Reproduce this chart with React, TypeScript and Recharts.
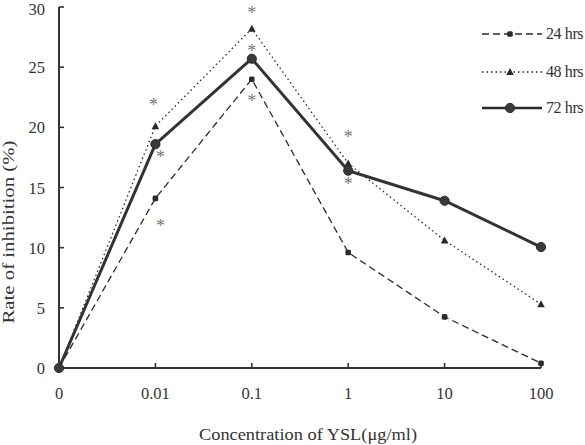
import React from 'react';
import { LineChart, Line, XAxis, YAxis, ReferenceDot } from 'recharts';

const concentrations = ['0', '0.01', '0.1', '1', '10', '100'];
const hrs24 = [0, 14.1, 24.0, 9.6, 4.25, 0.4];
const hrs48 = [0, 20.1, 28.2, 17.0, 10.6, 5.3];
const hrs72 = [0, 18.6, 25.7, 16.4, 13.9, 10.05];
const yTicks = [0, 5, 10, 15, 20, 25, 30];
// significance asterisks: [category, value, x-offset]
const asterisks: [string, number, number][] = [
  ['0.01', 22.2, -2],
  ['0.01', 17.9, 5],
  ['0.01', 12.1, 5],
  ['0.1', 29.8, 0],
  ['0.1', 26.7, 0],
  ['0.1', 22.5, 0],
  ['1', 19.5, 0],
  ['1', 15.6, 0],
];

const data = concentrations.map((c, i) => ({ conc: c, h24: hrs24[i], h48: hrs48[i], h72: hrs72[i] }));

const FONT = '"Liberation Serif", "Times New Roman", serif';
const DARK = '#2a2a2a';

const Square = (p: any) => {
  const { cx, cy } = p;
  if (cx == null || cy == null) return null;
  return <rect x={cx - 2.8} y={cy - 2.8} width={5.6} height={5.6} rx={1.5} fill={DARK} />;
};
const Tri = (p: any) => {
  const { cx, cy } = p;
  if (cx == null || cy == null) return null;
  return <polygon points={`${cx},${cy - 4} ${cx - 3.8},${cy + 3} ${cx + 3.8},${cy + 3}`} fill={DARK} />;
};
const Circ = (p: any) => {
  const { cx, cy } = p;
  if (cx == null || cy == null) return null;
  return <circle cx={cx} cy={cy} r={4.6} fill="#3a3a3a" stroke={DARK} strokeWidth={1} />;
};

const XTick = (p: any) => {
  const { x, y, payload } = p;
  return (
    <g>
      {payload.value !== '0' && (
        <line x1={x} y1={y} x2={x} y2={y - 5} stroke="#333" strokeWidth={1.6} />
      )}
      <text x={x} y={y + 31} textAnchor="middle" fontFamily={FONT} fontSize={16.5} fill="#333">
        {payload.value}
      </text>
    </g>
  );
};

const YTick = (p: any) => {
  const { x, y, payload } = p;
  return (
    <g>
      {payload.value !== 0 && (
        <line x1={x} y1={y} x2={x + 5} y2={y} stroke="#333" strokeWidth={1.6} />
      )}
      <text x={x - 14} y={Math.max(y + 6, 15)} textAnchor="end" fontFamily={FONT} fontSize={16.5} fill="#333">
        {payload.value}
      </text>
    </g>
  );
};

const LegendBox = () => {
  const rows = [
    { label: '24 hrs', y: 14, dash: '7 4', w: 1.3, M: Square },
    { label: '48 hrs', y: 52, dash: '1.5 3', w: 1.3, M: Tri },
    { label: '72 hrs', y: 88, dash: undefined, w: 2.5, M: Circ },
  ];
  return (
    <svg width={110} height={100} style={{ position: 'absolute', left: 478, top: 20, overflow: 'visible' }}>
      {rows.map((r) => (
        <g key={r.label}>
          <line x1={4} y1={r.y} x2={64} y2={r.y} stroke={DARK} strokeWidth={r.w} strokeDasharray={r.dash} />
          <r.M cx={32} cy={r.y} />
          <text x={68} y={r.y + 5} fontFamily={FONT} fontSize={16} fill="#333" letterSpacing={-0.4}>
            {r.label}
          </text>
        </g>
      ))}
    </svg>
  );
};

const Star = (dx: number) => (p: any) => {
  const { cx, cy } = p;
  if (cx == null || cy == null) return null;
  return (
    <text x={cx + dx} y={cy + 10} textAnchor="middle" fontFamily={FONT} fontSize={18} fill="#777">
      *
    </text>
  );
};

export default function App() {
  return (
    <div style={{ position: 'absolute', left: 0, top: 0, width: 585, height: 445, background: '#fff', overflow: 'hidden' }}>
      <LineChart width={585} height={445} data={data} margin={{ top: 7, right: 44, left: 0, bottom: 0 }}>
        <XAxis
          dataKey="conc"
          type="category"
          scale="point"
          padding={{ left: 0, right: 0 }}
          height={77}
          tickSize={0}
          tickMargin={0}
          tickLine={false}
          axisLine={{ stroke: '#333', strokeWidth: 2 }}
          tick={<XTick />}
          interval={0}
          label={() => (
            <text
              x={308}
              y={440}
              textAnchor="middle"
              fontFamily={FONT}
              fontSize={16.5}
              fill="#333"
              textLength={218}
              lengthAdjust="spacingAndGlyphs"
            >
              Concentration of YSL(μg/ml)
            </text>
          )}
        />
        <YAxis
          type="number"
          domain={[0, 30]}
          ticks={yTicks}
          width={59}
          tickSize={0}
          tickMargin={0}
          tickLine={false}
          axisLine={{ stroke: '#333', strokeWidth: 2 }}
          tick={<YTick />}
          interval={0}
          label={() => (
            <text
              x={14}
              y={232}
              transform="rotate(-90, 14, 232)"
              textAnchor="middle"
              fontFamily={FONT}
              fontSize={16.5}
              fill="#333"
              textLength={183}
              lengthAdjust="spacingAndGlyphs"
            >
              Rate of inhibition (%)
            </text>
          )}
        />
        <Line
          dataKey="h24"
          stroke={DARK}
          strokeWidth={1.3}
          strokeDasharray="7 4"
          dot={<Square />}
          activeDot={false}
          isAnimationActive={false}
        />
        <Line
          dataKey="h48"
          stroke={DARK}
          strokeWidth={1.3}
          strokeDasharray="1.5 3"
          dot={<Tri />}
          activeDot={false}
          isAnimationActive={false}
        />
        <Line
          dataKey="h72"
          stroke="#333"
          strokeWidth={3}
          dot={<Circ />}
          activeDot={false}
          isAnimationActive={false}
        />
        {asterisks.map(([c, v, dx], i) => (
          <ReferenceDot key={i} x={c} y={v} r={0} shape={Star(dx)} ifOverflow="visible" />
        ))}
      </LineChart>
      <LegendBox />
    </div>
  );
}
